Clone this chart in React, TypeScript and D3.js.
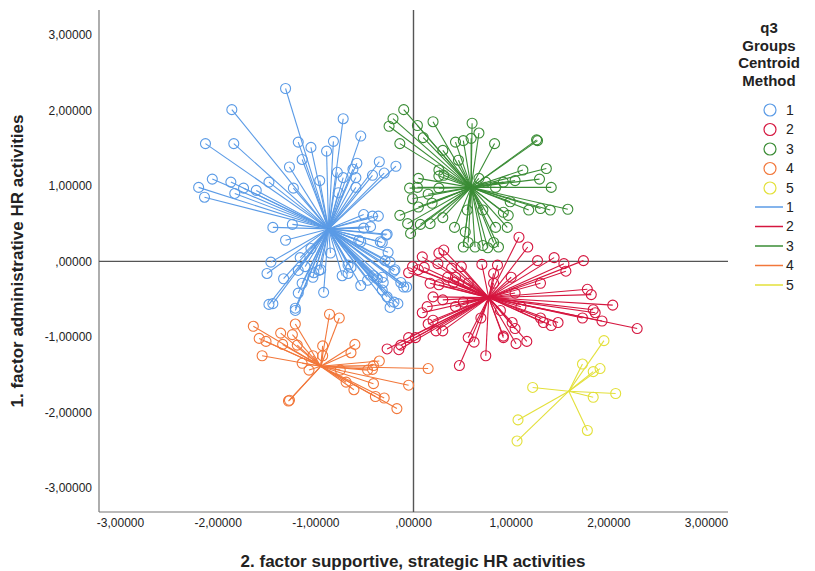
import React from "react";
import * as d3 from "d3";

// cluster members: [factor 2, factor 1]
const group1Points: [number, number][] = [
  [-1.31, 2.29], [-1.86, 2.01], [-2.13, 1.56], [-1.84, 1.56], [-1.18, 1.58], [-1.14, 1.35], [-1.27, 1.25],
  [-2.06, 1.09], [-1.87, 1.05], [-1.74, 0.97], [-1.61, 0.94], [-1.48, 1.05], [-1.23, 0.97], [-2.2, 0.98],
  [-2.14, 0.85], [-1.83, 0.9], [-1.44, 0.45], [-1.24, 0.49], [-1.31, 0.28], [-1.46, -0.01], [-1.5, -0.16],
  [-1.33, -0.23], [-1.18, -0.12], [-1.44, -0.56], [-1.48, -0.57], [-1.21, -0.62], [-1.18, -0.42], [-1.14, -0.29],
  [-0.72, 1.89], [-0.54, 1.66], [-0.82, 1.59], [-1.05, 1.51], [-0.89, 1.46], [-0.58, 1.3], [-0.35, 1.32],
  [-0.18, 1.26], [-0.3, 1.17], [-0.42, 1.14], [-0.78, 1.18], [-0.72, 1.11], [-0.62, 1.22], [-0.59, 1.11],
  [-0.96, 1.07], [-0.59, 0.98], [-0.77, 0.91], [-0.51, 0.62], [-0.42, 0.6], [-0.36, 0.6], [-0.44, 0.46],
  [-0.27, 0.36], [-0.34, 0.26], [-0.54, 0.26], [-0.26, 0.12], [-0.85, 0.11], [-1.16, 0.05], [-1.11, -0.07],
  [-1.02, -0.15], [-0.95, -0.11], [-0.73, -0.19], [-0.67, -0.16], [-0.64, -0.08], [-0.54, -0.32], [-0.92, -0.41],
  [-1.21, -0.65], [-0.41, -0.19], [-0.31, -0.28], [-0.19, -0.11], [-0.24, -0.01], [-0.13, -0.28], [-0.07, -0.34],
  [-0.27, -0.47], [-0.24, -0.61], [-0.16, -0.56], [-0.47, -0.25], [-0.32, -0.21], [-0.51, 0.44], [-0.28, 0.35],
  [-0.32, 0.25], [-0.56, 0.28], [-1.05, 0.17], [-0.29, 0.01], [-1.03, -0.21], [-0.97, -0.12], [-0.67, -0.05],
  [-0.37, -0.23], [-0.2, -0.13], [-0.1, -0.34], [-0.32, -0.38], [-0.2, -0.54],
];
const group2Points: [number, number][] = [
  [0.31, 0.15], [0.26, 0.11], [0.09, 0.06], [-0.01, -0.07], [-0.05, -0.15], [0.05, -0.11], [0.11, -0.08],
  [0.25, -0.03], [0.39, -0.09], [0.49, -0.07], [0.7, -0.04], [0.82, -0.16], [0.86, -0.05], [0.43, -0.21],
  [0.35, -0.21], [0.17, -0.29], [0.26, -0.31], [0.41, -0.28], [0.56, -0.29], [0.2, -0.47], [0.3, -0.51],
  [0.14, -0.6], [0.09, -0.68], [0.43, -0.6], [0.51, -0.54], [0.2, -0.78], [0.15, -0.83], [0.3, -0.92],
  [0.23, -0.92], [0.02, -1.01], [-0.05, -1.01], [-0.13, -1.11], [-0.15, -1.17], [-0.27, -1.16], [0.56, -1.01],
  [0.62, -1.07], [0.69, -0.75], [0.74, -1.25], [0.47, -1.38], [0.89, -0.65], [0.92, -1.01], [0.82, -0.29],
  [1.08, 0.32], [1.17, 0.19], [1.27, 0.01], [1.44, 0.05], [1.54, -0.03], [1.56, -0.13], [1.74, 0.01],
  [1.0, -0.21], [1.3, -0.29], [1.04, -0.42], [1.78, -0.37], [1.82, -0.44], [2.04, -0.58], [1.1, -0.6],
  [1.84, -0.64], [1.86, -0.68], [1.73, -0.75], [1.93, -0.79], [2.29, -0.89], [1.3, -0.75], [1.33, -0.81],
  [1.41, -0.85], [1.48, -0.81], [1.01, -0.81], [1.04, -0.89], [0.92, -0.99], [1.16, -1.06], [1.05, -1.09],
];
const group3Points: [number, number][] = [
  [-0.1, 2.01], [-0.21, 1.89], [-0.25, 1.79], [0.04, 1.8], [0.2, 1.85], [0.1, 1.64], [-0.14, 1.56],
  [0.3, 1.47], [0.43, 1.58], [0.51, 1.6], [0.59, 1.63], [0.67, 1.7], [0.6, 1.83], [0.83, 1.56],
  [1.26, 1.61], [1.27, 1.6], [0.46, 1.34], [1.12, 1.21], [1.36, 1.23], [1.29, 1.09], [1.41, 0.98],
  [1.04, 1.07], [0.92, 1.05], [0.84, 0.98], [0.74, 1.05], [0.67, 1.1], [0.26, 1.13], [0.31, 1.14],
  [0.05, 1.1], [-0.04, 0.97], [0.04, 0.98], [0.26, 0.97], [0.15, 0.89], [-0.01, 0.83], [0.19, 0.77],
  [0.05, 0.72], [-0.14, 0.61], [-0.06, 0.5], [0.07, 0.49], [0.17, 0.5], [0.3, 0.58], [-0.03, 0.37],
  [0.42, 0.45], [0.53, 0.39], [0.51, 0.19], [0.56, 0.25], [0.63, 0.19], [0.71, 0.21], [0.76, 0.18],
  [0.82, 0.25], [0.87, 0.19], [0.84, 0.45], [0.96, 0.45], [0.97, 0.61], [0.99, 0.79], [1.18, 0.68],
  [1.3, 0.7], [1.4, 0.68], [1.58, 0.69], [0.92, 0.65], [0.71, 0.68], [0.55, 0.68], [0.26, 1.21],
];
const group4Points: [number, number][] = [
  [-0.86, -0.7], [-0.76, -0.75], [-1.64, -0.86], [-1.21, -0.83], [-1.36, -0.95], [-1.24, -0.97], [-1.58, -1.02],
  [-1.51, -1.06], [-1.34, -1.1], [-1.19, -1.11], [-0.93, -1.12], [-0.6, -1.1], [-0.64, -1.21], [-0.93, -1.25],
  [-1.03, -1.25], [-1.55, -1.25], [-1.14, -1.35], [-1.07, -1.44], [-0.35, -1.32], [-0.41, -1.38], [-0.42, -1.43],
  [-0.47, -1.44], [-0.75, -1.44], [0.15, -1.42], [-0.41, -1.62], [-0.69, -1.6], [-0.61, -1.7], [-0.05, -1.64],
  [-1.27, -1.84], [-1.28, -1.85], [-0.39, -1.79], [-0.3, -1.81], [-0.17, -1.95],
];
const group5Points: [number, number][] = [
  [1.95, -1.05], [1.73, -1.36], [1.84, -1.46], [1.91, -1.42], [1.22, -1.67],
  [2.07, -1.75], [1.84, -1.8], [1.78, -2.24], [1.07, -2.1], [1.06, -2.38],
];

const groupIds = ["1", "2", "3", "4", "5"];
const groupColors = ["#5b9be6", "#d5163f", "#3a8c35", "#f2773a", "#e3e03a"];
const centroids: [number, number][] = [[-0.87, 0.43], [0.77, -0.48], [0.59, 0.98], [-0.95, -1.39], [1.59, -1.72]];
const groupPoints = [group1Points, group2Points, group3Points, group4Points, group5Points];
const legendTitle = ["q3", "Groups", "Centroid", "Method"];

const xTicks = [-3, -2, -1, 0, 1, 2, 3];
const yTicks = [-3, -2, -1, 0, 1, 2, 3];

const W = 815, H = 571;
const FONT = "'Liberation Sans', Arial, sans-serif";

export default function App() {
  const x = d3.scaleLinear().domain([-3.22, 3.22]).range([99, 728]);
  const y = d3.scaleLinear().domain([-3.32, 3.33]).range([512, 10]);
  // SPSS style: comma decimal, no leading zero
  const fmt = (v: number) => {
    const s = Math.abs(v).toFixed(5).replace(".", ",");
    const t = s.startsWith("0,") ? s.slice(1) : s;
    return (v < 0 ? "-" : "") + t;
  };
  const [x0, x1] = x.range();
  const [y0, y1] = y.range();

  return (
    <svg width={W} height={H} style={{ position: "fixed", left: 0, top: 0, background: "#fff" }} fontFamily={FONT}>
      {/* frame + zero lines */}
      <line x1={x0} x2={x0} y1={y1} y2={y0} stroke="#777" strokeWidth={1.2} />
      <line x1={x0} x2={x1} y1={y0} y2={y0} stroke="#777" strokeWidth={1.2} />
      <line x1={x(0)} x2={x(0)} y1={y1} y2={y0} stroke="#555" strokeWidth={1.4} />
      <line x1={x0} x2={x1} y1={y(0)} y2={y(0)} stroke="#555" strokeWidth={1.4} />

      {yTicks.map((t) => (
        <text key={"y" + t} x={92} y={y(t)} dy="0.35em" textAnchor="end" fontSize={12} fill="#222">{fmt(t)}</text>
      ))}
      {xTicks.map((t) => (
        <text key={"x" + t} x={x(t)} y={527} textAnchor="middle" fontSize={12} fill="#222">{fmt(t)}</text>
      ))}

      <text x={413} y={567} textAnchor="middle" fontSize={17} fontWeight="bold" fill="#222">2. factor supportive, strategic HR activities</text>
      <text transform={`translate(23,${(y0 + y1) / 2}) rotate(-90)`} textAnchor="middle" fontSize={17} fontWeight="bold" fill="#222">1. factor administrative HR activities</text>

      {groupPoints.map((pts, gi) => (
        <g key={"g" + gi} stroke={groupColors[gi]} fill="none">
          {pts.map((p, i) => (
            <line key={"l" + i} x1={x(p[0])} y1={y(p[1])} x2={x(centroids[gi][0])} y2={y(centroids[gi][1])} strokeWidth={1.1} />
          ))}
          {pts.map((p, i) => (
            <circle key={"c" + i} cx={x(p[0])} cy={y(p[1])} r={5} strokeWidth={1.1} />
          ))}
        </g>
      ))}

      {/* legend */}
      <g fill="#222">
        {legendTitle.map((s, i) => (
          <text key={s} x={769} y={28 + i * 17.5} dy="0.35em" textAnchor="middle" fontSize={15} fontWeight="bold">{s}</text>
        ))}
        {groupIds.map((id, i) => (
          <g key={"lc" + id} transform={`translate(0,${110 + i * 19.5})`}>
            <circle cx={770} cy={0} r={6} fill="none" stroke={groupColors[i]} strokeWidth={1.2} />
            <text x={786} y={0} dy="0.35em" fontSize={14}>{id}</text>
          </g>
        ))}
        {groupIds.map((id, i) => (
          <g key={"ll" + id} transform={`translate(0,${207 + i * 19.5})`}>
            <line x1={755} x2={783} y1={0} y2={0} stroke={groupColors[i]} strokeWidth={1.5} />
            <text x={786} y={0} dy="0.35em" fontSize={14}>{id}</text>
          </g>
        ))}
      </g>
    </svg>
  );
}
